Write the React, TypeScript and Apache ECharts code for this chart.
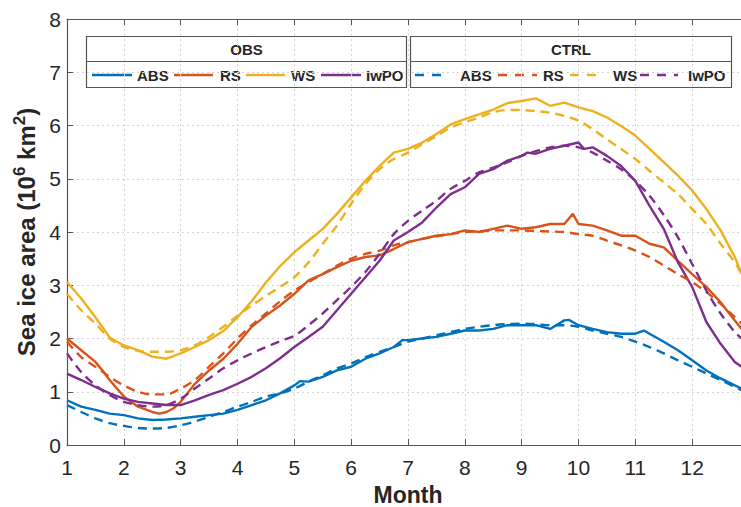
import React, { useEffect, useRef } from "react";
import * as echarts from "echarts";

// ---------- data (month, sea ice area in 10^6 km^2) ----------
const obsABS: [number, number][] = [
  [1, 0.84], [1.25, 0.72], [1.5, 0.66], [1.75, 0.59], [2, 0.56], [2.25, 0.5], [2.5, 0.47], [2.75, 0.48],
  [3, 0.5], [3.25, 0.53], [3.5, 0.56], [3.75, 0.59], [4, 0.66], [4.25, 0.75], [4.5, 0.84], [4.75, 0.97],
  [5, 1.12], [5.1, 1.2], [5.25, 1.19], [5.5, 1.28], [5.75, 1.4], [6, 1.47], [6.25, 1.62], [6.5, 1.72],
  [6.75, 1.84], [6.9, 1.97], [7, 1.97], [7.25, 2.0], [7.5, 2.03], [7.75, 2.09], [8, 2.15], [8.25, 2.15],
  [8.5, 2.18], [8.75, 2.25], [9, 2.25], [9.25, 2.25], [9.5, 2.18], [9.75, 2.34], [9.83, 2.35], [10, 2.25],
  [10.25, 2.18], [10.5, 2.12], [10.75, 2.09], [11, 2.09], [11.15, 2.15], [11.25, 2.09], [11.5, 1.94],
  [11.75, 1.78], [12, 1.59], [12.25, 1.4], [12.5, 1.25], [12.75, 1.12], [12.87, 1.06],
];
const obsRS: [number, number][] = [
  [1, 2.0], [1.25, 1.78], [1.5, 1.56], [1.625, 1.4], [1.75, 1.22], [2, 0.91], [2.125, 0.81], [2.25, 0.72],
  [2.5, 0.62], [2.625, 0.59], [2.75, 0.62], [2.875, 0.69], [3, 0.81], [3.25, 1.15], [3.5, 1.4], [3.75, 1.62],
  [4, 1.9], [4.25, 2.22], [4.5, 2.43], [4.75, 2.62], [5, 2.84], [5.25, 3.09], [5.5, 3.21], [5.75, 3.34],
  [6, 3.46], [6.25, 3.53], [6.5, 3.56], [6.75, 3.68], [7, 3.81], [7.25, 3.87], [7.5, 3.93], [7.75, 3.96],
  [8, 4.03], [8.25, 4.0], [8.5, 4.06], [8.75, 4.12], [9, 4.06], [9.25, 4.09], [9.5, 4.15], [9.75, 4.15],
  [9.9, 4.34], [10, 4.15], [10.25, 4.12], [10.5, 4.03], [10.75, 3.93], [11, 3.93], [11.25, 3.78], [11.5, 3.71],
  [11.75, 3.46], [12, 3.21], [12.25, 2.97], [12.5, 2.68], [12.75, 2.34], [12.87, 2.18],
];
const obsWS: [number, number][] = [
  [1, 3.06], [1.25, 2.75], [1.5, 2.4], [1.75, 2.02], [2, 1.87], [2.25, 1.78], [2.5, 1.66], [2.75, 1.62],
  [3, 1.72], [3.25, 1.84], [3.5, 1.97], [3.75, 2.14], [4, 2.4], [4.25, 2.7], [4.5, 3.05], [4.75, 3.36],
  [5, 3.62], [5.25, 3.84], [5.5, 4.06], [5.75, 4.34], [6, 4.65], [6.25, 4.96], [6.5, 5.24], [6.75, 5.49],
  [7, 5.56], [7.25, 5.68], [7.5, 5.84], [7.75, 6.02], [8, 6.12], [8.25, 6.21], [8.5, 6.3], [8.75, 6.42],
  [9, 6.46], [9.25, 6.51], [9.5, 6.37], [9.75, 6.43], [10, 6.34], [10.25, 6.27], [10.5, 6.15], [10.75, 5.99],
  [11, 5.81], [11.25, 5.56], [11.5, 5.31], [11.75, 5.06], [12, 4.78], [12.25, 4.43], [12.5, 4.03],
  [12.75, 3.53], [12.87, 3.21],
];
const obsIwPO: [number, number][] = [
  [1, 1.34], [1.25, 1.22], [1.5, 1.09], [1.75, 0.97], [2, 0.87], [2.25, 0.81], [2.5, 0.78], [2.75, 0.75],
  [3, 0.75], [3.25, 0.84], [3.5, 0.94], [3.75, 1.03], [4, 1.15], [4.25, 1.28], [4.5, 1.44], [4.75, 1.63],
  [5, 1.84], [5.25, 2.03], [5.5, 2.22], [5.75, 2.53], [6, 2.84], [6.25, 3.15], [6.5, 3.46], [6.75, 3.84],
  [7, 4.0], [7.25, 4.18], [7.5, 4.46], [7.75, 4.71], [8, 4.84], [8.25, 5.09], [8.5, 5.18], [8.75, 5.34],
  [9, 5.43], [9.1, 5.49], [9.25, 5.47], [9.5, 5.56], [9.75, 5.62], [10, 5.68], [10.1, 5.56], [10.25, 5.59],
  [10.5, 5.43], [10.75, 5.24], [11, 4.96], [11.25, 4.49], [11.5, 4.06], [11.75, 3.43], [12, 2.97],
  [12.25, 2.31], [12.5, 1.9], [12.75, 1.56], [12.87, 1.47],
];
const ctrlABS: [number, number][] = [
  [1, 0.75], [1.25, 0.62], [1.5, 0.5], [1.75, 0.41], [2, 0.36], [2.25, 0.32], [2.5, 0.31], [2.75, 0.32],
  [3, 0.37], [3.25, 0.44], [3.5, 0.53], [3.75, 0.62], [4, 0.72], [4.25, 0.81], [4.5, 0.91], [4.75, 0.97],
  [5, 1.06], [5.25, 1.19], [5.5, 1.31], [5.75, 1.44], [6, 1.53], [6.25, 1.65], [6.5, 1.75], [6.75, 1.84],
  [7, 1.94], [7.25, 2.0], [7.5, 2.06], [7.75, 2.12], [8, 2.18], [8.25, 2.22], [8.5, 2.25], [8.75, 2.27],
  [9, 2.28], [9.25, 2.27], [9.5, 2.25], [9.75, 2.25], [10, 2.22], [10.25, 2.15], [10.5, 2.09], [10.75, 2.03],
  [11, 1.94], [11.25, 1.84], [11.5, 1.72], [11.75, 1.59], [12, 1.47], [12.25, 1.34], [12.5, 1.22],
  [12.75, 1.09], [12.87, 1.03],
];
const ctrlRS: [number, number][] = [
  [1, 1.94], [1.25, 1.65], [1.5, 1.47], [1.75, 1.28], [2, 1.12], [2.25, 1.0], [2.5, 0.95], [2.75, 0.95],
  [3, 1.06], [3.25, 1.22], [3.5, 1.47], [3.75, 1.72], [4, 2.0], [4.25, 2.25], [4.5, 2.47], [4.75, 2.7],
  [5, 2.9], [5.25, 3.06], [5.5, 3.21], [5.75, 3.37], [6, 3.5], [6.25, 3.59], [6.5, 3.65], [6.75, 3.75],
  [7, 3.81], [7.25, 3.87], [7.5, 3.92], [7.75, 3.96], [8, 4.0], [8.25, 4.01], [8.5, 4.03], [8.75, 4.03],
  [9, 4.03], [9.25, 4.02], [9.5, 4.01], [9.75, 4.0], [10, 3.96], [10.25, 3.93], [10.5, 3.84], [10.75, 3.75],
  [11, 3.65], [11.25, 3.53], [11.5, 3.37], [11.75, 3.21], [12, 3.06], [12.25, 2.87], [12.5, 2.65],
  [12.75, 2.4], [12.87, 2.28],
];
const ctrlWS: [number, number][] = [
  [1, 2.84], [1.25, 2.53], [1.5, 2.28], [1.75, 2.0], [2, 1.84], [2.25, 1.77], [2.5, 1.75], [2.75, 1.75],
  [3, 1.78], [3.25, 1.87], [3.5, 2.03], [3.75, 2.22], [4, 2.43], [4.25, 2.62], [4.5, 2.8], [4.75, 2.97],
  [5, 3.15], [5.25, 3.43], [5.5, 3.78], [5.75, 4.12], [6, 4.53], [6.25, 4.9], [6.5, 5.18], [6.75, 5.37],
  [7, 5.49], [7.25, 5.65], [7.5, 5.8], [7.75, 5.96], [8, 6.06], [8.25, 6.15], [8.5, 6.25], [8.75, 6.29],
  [9, 6.29], [9.25, 6.27], [9.5, 6.24], [9.75, 6.18], [10, 6.09], [10.25, 5.93], [10.5, 5.74], [10.75, 5.56],
  [11, 5.37], [11.25, 5.15], [11.5, 4.93], [11.75, 4.71], [12, 4.43], [12.25, 4.15], [12.5, 3.78],
  [12.75, 3.43], [12.87, 3.21],
];
const ctrlIwPO: [number, number][] = [
  [1, 1.72], [1.25, 1.37], [1.5, 1.12], [1.75, 0.94], [2, 0.81], [2.25, 0.75], [2.5, 0.72], [2.75, 0.75],
  [3, 0.87], [3.25, 1.06], [3.5, 1.25], [3.75, 1.44], [4, 1.59], [4.25, 1.72], [4.5, 1.84], [4.75, 1.95],
  [5, 2.05], [5.25, 2.25], [5.5, 2.47], [5.75, 2.72], [6, 2.97], [6.25, 3.25], [6.5, 3.59], [6.75, 3.96],
  [7, 4.21], [7.25, 4.4], [7.5, 4.59], [7.75, 4.81], [8, 4.96], [8.25, 5.12], [8.5, 5.21], [8.75, 5.31],
  [9, 5.43], [9.25, 5.52], [9.5, 5.59], [9.75, 5.62], [10, 5.59], [10.25, 5.49], [10.5, 5.34], [10.75, 5.18],
  [11, 4.96], [11.25, 4.68], [11.5, 4.32], [11.75, 3.9], [12, 3.4], [12.25, 2.9], [12.5, 2.47],
  [12.75, 2.12], [12.87, 2.0],
];

const regionNames = ["ABS", "RS", "WS", "IwPO"];
const regionColors = ["#0072BD", "#D95319", "#EDB120", "#7E2F8E"];
const obsSeries = [obsABS, obsRS, obsWS, obsIwPO];
const ctrlSeries = [ctrlABS, ctrlRS, ctrlWS, ctrlIwPO];
const groupTitles = ["OBS", "CTRL"];

const FONT = '"Liberation Sans", Arial, Helvetica, sans-serif';
const TXT = "#262626";
const AX = "#555555";
const DASH = [9, 6];

function legendBox(title: string, box: number[], entries: number[][], dashed: boolean) {
  const [l, t, r, b] = box;
  const mid = 61.5;
  const children: any[] = [
    { type: "rect", shape: { x: l, y: t, width: r - l, height: b - t }, style: { fill: "#fff", stroke: AX, lineWidth: 1.2 } },
    { type: "line", shape: { x1: l, y1: mid, x2: r, y2: mid }, style: { stroke: AX, lineWidth: 1.2 } },
    {
      type: "text", x: (l + r) / 2, y: (t + mid) / 2,
      style: { text: title, font: `bold 15px ${FONT}`, fill: TXT, align: "center", verticalAlign: "middle", textAlign: "center", textVerticalAlign: "middle" },
    },
  ];
  entries.forEach((e, i) => {
    children.push({
      type: "line", shape: { x1: e[0], y1: 75, x2: e[1], y2: 75 },
      style: { stroke: regionColors[i], lineWidth: 2.5, lineDash: dashed ? [9, 8] : null },
    });
    children.push({
      type: "text", x: e[2], y: 75.5,
      style: { text: regionNames[i], font: `bold 15px ${FONT}`, fill: TXT, align: "left", verticalAlign: "middle", textAlign: "left", textVerticalAlign: "middle" },
    });
  });
  return { type: "group", z: 100, children };
}

export default function App() {
  const ref = useRef<HTMLDivElement>(null);
  useEffect(() => {
    if (!ref.current) return;
    const chart = echarts.init(ref.current, null, { renderer: "svg" });
    const series: any[] = [];
    obsSeries.forEach((d, i) =>
      series.push({
        name: "OBS " + regionNames[i], type: "line", data: d, showSymbol: false, symbol: "none",
        lineStyle: { color: regionColors[i], width: 2.4 }, itemStyle: { color: regionColors[i] }, z: 3,
      })
    );
    ctrlSeries.forEach((d, i) =>
      series.push({
        name: "CTRL " + regionNames[i], type: "line", data: d, showSymbol: false, symbol: "none", smooth: 0.3,
        lineStyle: { color: regionColors[i], width: 2.4, type: DASH }, itemStyle: { color: regionColors[i] }, z: 3,
      })
    );
    const option: any = {
      animation: false,
      backgroundColor: "#ffffff",
      textStyle: { fontFamily: FONT },
      grid: { left: 67, right: -8, top: 19, bottom: 62, containLabel: false, outerBoundsMode: "none" },
      xAxis: [
        {
          type: "value", min: 1, max: 13, interval: 1, position: "bottom",
          name: "Month", nameLocation: "middle", nameGap: 38,
          nameTextStyle: { fontSize: 23, fontWeight: "bold", color: TXT, fontFamily: FONT },
          axisLine: { show: true, onZero: false, lineStyle: { color: AX, width: 1.2 } },
          axisTick: { show: true, inside: true, length: 6, lineStyle: { color: AX } },
          axisLabel: { fontSize: 21, color: TXT, margin: 12, showMaxLabel: false, fontFamily: FONT },
          splitLine: { show: true, lineStyle: { type: [2, 3], color: "#d4d4d4", width: 1 } },
        },
        {
          type: "value", min: 1, max: 13, interval: 1, position: "top",
          axisLine: { show: true, onZero: false, lineStyle: { color: AX, width: 1.2 } },
          axisTick: { show: true, inside: true, length: 6, lineStyle: { color: AX } },
          axisLabel: { show: false },
          splitLine: { show: false },
        },
      ],
      yAxis: {
        type: "value", min: 0, max: 8, interval: 1,
        name: "{b|Sea ice area (10}{s|6}{b| km}{s|2}{b|)}",
        nameLocation: "middle", nameGap: 24, nameRotate: 90,
        nameTextStyle: {
          color: TXT, fontFamily: FONT,
          rich: {
            b: { fontSize: 24, fontWeight: "bold", color: TXT, fontFamily: FONT, lineHeight: 31 },
            s: { fontSize: 17, fontWeight: "bold", color: TXT, fontFamily: FONT, verticalAlign: "top", lineHeight: 31 },
          },
        },
        axisLine: { show: true, onZero: false, lineStyle: { color: AX, width: 1.2 } },
        axisTick: { show: true, inside: true, length: 6, lineStyle: { color: AX } },
        axisLabel: { fontSize: 21, color: TXT, margin: 6, fontFamily: FONT },
        splitLine: { show: true, lineStyle: { type: [2, 3], color: "#d4d4d4", width: 1 } },
      },
      series,
      graphic: [
        legendBox(groupTitles[0], [86.5, 36.5, 406.5, 87.5], [[92, 132, 137], [174, 213, 220], [246, 285, 291], [321, 361, 366]], false),
        legendBox(groupTitles[1], [410.5, 36.5, 731.5, 87.5], [[415, 447, 460], [498, 537, 543], [570, 600, 613], [640, 678, 688]], true),
      ],
    };
    chart.setOption(option);
    return () => chart.dispose();
  }, []);
  return (
    <div
      ref={ref}
      style={{ position: "absolute", left: 0, top: 0, width: 741, height: 507, overflow: "hidden", background: "#fff" }}
    />
  );
}
